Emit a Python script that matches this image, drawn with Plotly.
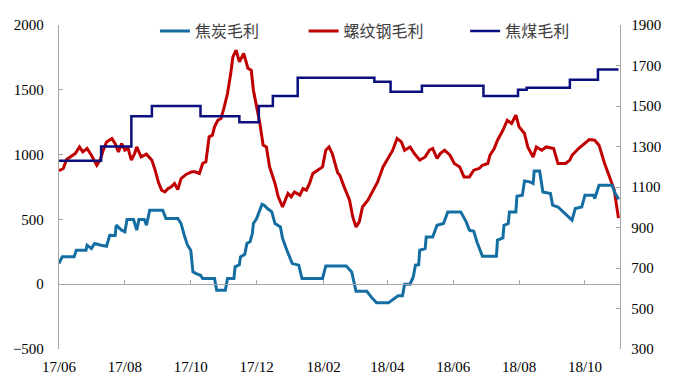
import plotly.graph_objects as go

# 焦炭毛利 (left axis)
coke_dates = [
    "2017-06-01", "2017-06-04", "2017-06-15", "2017-06-17", "2017-06-26", "2017-06-27",
    "2017-07-01", "2017-07-04", "2017-07-10", "2017-07-15", "2017-07-18", "2017-07-23",
    "2017-07-24", "2017-07-29", "2017-08-01", "2017-08-03", "2017-08-09", "2017-08-12",
    "2017-08-14", "2017-08-19", "2017-08-21", "2017-08-24", "2017-09-05", "2017-09-08",
    "2017-09-19", "2017-09-22", "2017-09-25", "2017-09-28", "2017-10-01", "2017-10-03",
    "2017-10-06", "2017-10-10", "2017-10-12", "2017-10-23", "2017-10-25", "2017-11-02",
    "2017-11-04", "2017-11-10", "2017-11-11", "2017-11-15", "2017-11-16", "2017-11-20",
    "2017-11-22", "2017-11-25", "2017-11-27", "2017-11-28", "2017-12-01", "2017-12-03",
    "2017-12-06", "2017-12-08", "2017-12-11", "2017-12-15", "2017-12-18", "2017-12-23",
    "2017-12-25", "2017-12-29", "2018-01-03", "2018-01-09", "2018-01-12", "2018-01-31",
    "2018-02-03", "2018-02-22", "2018-02-27", "2018-03-03", "2018-03-13", "2018-03-17",
    "2018-03-22", "2018-04-02", "2018-04-06", "2018-04-11", "2018-04-15", "2018-04-17",
    "2018-04-22", "2018-04-25", "2018-04-27", "2018-04-30", "2018-05-01", "2018-05-06",
    "2018-05-07", "2018-05-13", "2018-05-17", "2018-05-23", "2018-05-27", "2018-06-08",
    "2018-06-13", "2018-06-16", "2018-06-20", "2018-06-23", "2018-06-28", "2018-07-11",
    "2018-07-12", "2018-07-17", "2018-07-18", "2018-07-22", "2018-07-23", "2018-07-29",
    "2018-07-30", "2018-08-04", "2018-08-06", "2018-08-11", "2018-08-14", "2018-08-15",
    "2018-08-20", "2018-08-23", "2018-08-30", "2018-09-01", "2018-09-06", "2018-09-11",
    "2018-09-19", "2018-09-22", "2018-09-28", "2018-10-01", "2018-10-09", "2018-10-10",
    "2018-10-14", "2018-10-26", "2018-10-29", "2018-10-31", "2018-11-01",
]
coke_values = [
    160, 211, 211, 262, 262, 301,
    275, 314, 301, 293, 378, 376,
    455, 417, 404, 499, 499, 417,
    499, 499, 455, 571, 571, 507,
    507, 468, 378, 301, 262, 95,
    82, 69, 44, 44, -46, -46,
    44, 44, 134, 150, 211, 230,
    314, 330, 391, 468, 507, 558,
    617, 610, 584, 558, 468, 442,
    353, 262, 159, 147, 44, 44,
    140, 140, 95, -55, -55, -98,
    -144, -144, -118, -90, -90, 0,
    0, 56, 147, 150, 262, 275,
    365, 365, 455, 468, 558, 558,
    481, 417, 409, 326, 216, 216,
    340, 357, 455, 468, 558, 558,
    679, 687, 797, 790, 777, 874,
    874, 712, 700, 610, 596, 558,
    494, 584, 596, 687, 687, 661,
    764, 764, 700, 674, 654,
]

# 螺纹钢毛利 (left axis)
rebar_dates = [
    "2017-06-01", "2017-06-05", "2017-06-08", "2017-06-13", "2017-06-16", "2017-06-20",
    "2017-06-23", "2017-06-27", "2017-07-01", "2017-07-06", "2017-07-09", "2017-07-12",
    "2017-07-15", "2017-07-20", "2017-07-23", "2017-07-26", "2017-07-29", "2017-08-01",
    "2017-08-04", "2017-08-07", "2017-08-10", "2017-08-12", "2017-08-16", "2017-08-21",
    "2017-08-26", "2017-08-29", "2017-09-01", "2017-09-04", "2017-09-07", "2017-09-10",
    "2017-09-13", "2017-09-16", "2017-09-19", "2017-09-22", "2017-09-27", "2017-10-02",
    "2017-10-05", "2017-10-09", "2017-10-12", "2017-10-15", "2017-10-18", "2017-10-21",
    "2017-10-23", "2017-10-26", "2017-10-29", "2017-11-01", "2017-11-04", "2017-11-07",
    "2017-11-09", "2017-11-12", "2017-11-15", "2017-11-19", "2017-11-23", "2017-11-26",
    "2017-11-28", "2017-12-01", "2017-12-04", "2017-12-07", "2017-12-10", "2017-12-13",
    "2017-12-18", "2017-12-21", "2017-12-25", "2017-12-30", "2018-01-02", "2018-01-05",
    "2018-01-10", "2018-01-13", "2018-01-16", "2018-01-19", "2018-01-22", "2018-01-31",
    "2018-02-03", "2018-02-06", "2018-02-09", "2018-02-14", "2018-02-16", "2018-02-20",
    "2018-02-25", "2018-02-28", "2018-03-03", "2018-03-06", "2018-03-09", "2018-03-14",
    "2018-03-19", "2018-03-23", "2018-03-28", "2018-04-02", "2018-04-06", "2018-04-10",
    "2018-04-14", "2018-04-17", "2018-04-22", "2018-04-26", "2018-05-01", "2018-05-06",
    "2018-05-10", "2018-05-13", "2018-05-17", "2018-05-20", "2018-05-24", "2018-05-29",
    "2018-06-02", "2018-06-07", "2018-06-11", "2018-06-16", "2018-06-20", "2018-06-25",
    "2018-06-28", "2018-07-03", "2018-07-05", "2018-07-09", "2018-07-12", "2018-07-17",
    "2018-07-21", "2018-07-25", "2018-07-29", "2018-08-01", "2018-08-06", "2018-08-09",
    "2018-08-14", "2018-08-17", "2018-08-22", "2018-08-26", "2018-09-02", "2018-09-06",
    "2018-09-13", "2018-09-17", "2018-09-19", "2018-09-25", "2018-10-01", "2018-10-05",
    "2018-10-10", "2018-10-14", "2018-10-19", "2018-10-23", "2018-10-28", "2018-11-01",
]
rebar_values = [
    875, 893, 962, 988, 1008, 1059,
    1021, 1047, 995, 918, 957, 1034,
    1098, 1124, 1085, 1021, 1085, 1034,
    1047, 957, 1008, 1059, 982, 1003,
    957, 880, 789, 725, 712, 738,
    751, 777, 730, 815, 849, 867,
    867, 854, 931, 944, 1137, 1150,
    1214, 1265, 1278, 1368, 1471, 1625,
    1754, 1806, 1715, 1780, 1665, 1652,
    1497, 1368, 1240, 1073, 1059, 905,
    777, 674, 596, 700, 674, 712,
    687, 738, 725, 777, 854, 905,
    1034, 1059, 1008, 860, 841, 751,
    648, 519, 442, 481, 596, 648,
    725, 789, 905, 982, 1034, 1124,
    1098, 1034, 1059, 1008, 957, 982,
    1034, 1047, 970, 1008, 1034, 995,
    931, 905, 828, 828, 880, 893,
    918, 931, 995, 1047, 1111, 1188,
    1265, 1240, 1304, 1214, 1163, 1059,
    982, 1059, 1034, 1059, 1047, 931,
    931, 957, 995, 1047, 1085, 1116,
    1111, 1073, 935, 840, 730, 510,
]

# 焦煤毛利 (right axis), level changes
coal_dates = [
    "2017-06-01", "2017-07-10", "2017-08-07", "2017-08-26", "2017-10-10", "2017-11-15",
    "2017-12-03", "2017-12-16", "2018-01-08", "2018-03-20", "2018-04-04", "2018-05-03",
    "2018-06-29", "2018-07-31", "2018-08-08", "2018-09-17", "2018-10-13", "2018-11-01",
]
coal_values = [
    1230, 1300, 1450, 1500, 1450, 1420,
    1500, 1550, 1640, 1620, 1570, 1600,
    1550, 1580, 1590, 1630, 1680, 1680,
]

left_ticks = [-500, 0, 500, 1000, 1500, 2000]
right_ticks = [300, 500, 700, 900, 1100, 1300, 1500, 1700, 1900]
x_range = ["2017-06-01", "2018-11-02 10:00"]

AXIS_GREY = "#A6A6A6"
TICK_FONT = dict(family="'Liberation Serif', 'Times New Roman', serif", size=15, color="#000000")
LEGEND_FONT = dict(family="'Noto Sans CJK SC', sans-serif", size=16, color="#404040")

fig = go.Figure()

fig.add_trace(go.Scatter(
    x=coke_dates, y=coke_values, name="焦炭毛利", mode="lines",
    line=dict(color="#146EA2", width=3), xaxis="x2", yaxis="y", legend="legend",
))
fig.add_trace(go.Scatter(
    x=rebar_dates, y=rebar_values, name="螺纹钢毛利", mode="lines",
    line=dict(color="#C00000", width=3), xaxis="x", yaxis="y", legend="legend2",
))
fig.add_trace(go.Scatter(
    x=coal_dates, y=coal_values, name="焦煤毛利", mode="lines", line_shape="hv",
    line=dict(color="#0A0F7D", width=2.5), xaxis="x", yaxis="y2", legend="legend3",
))

legend_common = dict(
    orientation="h", yanchor="middle", y=0.981, xanchor="left",
    bgcolor="rgba(0,0,0,0)", font=LEGEND_FONT,
)

fig.update_layout(
    template="none",
    width=678, height=376,
    margin=dict(l=59, r=58, t=25, b=27, autoexpand=False),
    paper_bgcolor="white", plot_bgcolor="white",
    showlegend=True,
    legend=dict(x=0.171, **legend_common),
    legend2=dict(x=0.436, **legend_common),
    legend3=dict(x=0.724, **legend_common),
    # date labels along the bottom
    xaxis=dict(
        type="date", range=x_range, tick0="2017-06-01", dtick="M2",
        tickformat="%y/%m", showgrid=False, zeroline=False, showline=False,
        ticks="", tickfont=TICK_FONT, ticklabelstandoff=7, automargin=False,
    ),
    # the category line drawn at zero with its tick marks
    xaxis2=dict(
        type="date", range=x_range, tick0="2017-06-01", dtick="M2",
        overlaying="x", anchor="free", position=0.2, side="bottom",
        showline=True, linecolor=AXIS_GREY, linewidth=1.3,
        ticks="inside", ticklen=4, tickcolor=AXIS_GREY, tickwidth=1.3,
        showticklabels=False, showgrid=False, zeroline=False, automargin=False,
    ),
    yaxis=dict(
        range=[-500, 2000], tickvals=left_ticks, showgrid=False, zeroline=False,
        showline=True, linecolor=AXIS_GREY, linewidth=1.3,
        ticks="inside", ticklen=4, tickcolor=AXIS_GREY, tickwidth=1.3,
        tickfont=TICK_FONT, ticklabelstandoff=11, automargin=False,
    ),
    yaxis2=dict(
        range=[300, 1900], tickvals=right_ticks, overlaying="y", side="right",
        anchor="x", showgrid=False, zeroline=False,
        showline=True, linecolor=AXIS_GREY, linewidth=1.3,
        ticks="inside", ticklen=4, tickcolor=AXIS_GREY, tickwidth=1.3,
        tickfont=TICK_FONT, ticklabelstandoff=7, automargin=False,
    ),
)

fig.write_html("out.html")
